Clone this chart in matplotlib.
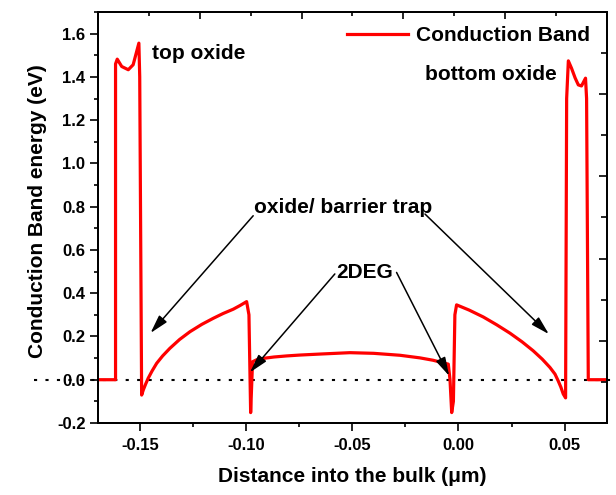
"""
plot.py
Conduction band profile across the oxide / barrier / channel stack.
"""
import matplotlib
matplotlib.use("Agg")
import matplotlib.pyplot as plt
from matplotlib.ticker import MultipleLocator

plt.rcParams["font.family"] = ["Liberation Sans", "DejaVu Sans"]
plt.rcParams["font.weight"] = "bold"
plt.rcParams["axes.labelweight"] = "bold"

# --- conduction band profile (um, eV) ---
DIST = [-0.170, -0.1617, -0.1617, -0.1609, -0.1588, -0.1557, -0.1534, -0.1507,
        -0.1503, -0.1494, -0.1486, -0.1475, -0.1463, -0.1445, -0.1423, -0.1395,
        -0.1361, -0.1315, -0.1266, -0.1210, -0.1156, -0.1110, -0.1062, -0.1030,
        -0.0999, -0.0988, -0.0980, -0.0971, -0.0952, -0.0910, -0.0870, -0.0810,
        -0.0748, -0.0645, -0.0512, -0.0400, -0.0276, -0.0182, -0.0120, -0.0048,
        -0.0040, -0.0032, -0.0024, -0.0017, -0.0009, 0.0050, 0.0117, 0.0180,
        0.0243, 0.0300, 0.0352, 0.0395, 0.0431, 0.0455, 0.0470, 0.0483,
        0.0494, 0.0505, 0.0510, 0.0518, 0.0533, 0.0550, 0.0565, 0.0580,
        0.0599, 0.0604, 0.0612, 0.070]
ENERGY = [0.0, 0.0, 1.46, 1.482, 1.448, 1.433, 1.456, 1.556,
          1.40, -0.071, -0.047, -0.020, 0.007, 0.040, 0.076, 0.110,
          0.145, 0.186, 0.222, 0.256, 0.284, 0.306, 0.326, 0.343,
          0.361, 0.30, -0.152, 0.083, 0.092, 0.100, 0.105, 0.110,
          0.114, 0.119, 0.125, 0.122, 0.113, 0.101, 0.090, 0.072,
          0.00, -0.152, -0.10, 0.30, 0.346, 0.322, 0.290, 0.254,
          0.215, 0.175, 0.134, 0.095, 0.057, 0.026, -0.005, -0.035,
          -0.066, -0.084, 1.30, 1.474, 1.440, 1.395, 1.363, 1.358,
          1.394, 1.30, 0.0, 0.0]

# --- annotation labels and arrows (text pos, arrow start -> tip) ---
REGION_LABELS = ["top oxide", "bottom oxide", "oxide/ barrier trap", "2DEG"]
LABEL_POS = [(-0.1445, 1.51), (0.0463, 1.41), (-0.0545, 0.795), (-0.0441, 0.496)]
ARROW_START = [(-0.0968, 0.758), (-0.0158, 0.766), (-0.0583, 0.489), (-0.0292, 0.496)]
ARROW_TIP = [(-0.1452, 0.216), (0.0426, 0.211), (-0.0983, 0.034), (-0.0044, 0.018)]

fig = plt.figure(figsize=(6.16, 4.95), dpi=100)
ax = fig.add_axes([0.159, 0.1455, 0.8263, 0.8303])

# zero reference, runs past both spines as in the original
ax.plot([-0.2, 0.072], [0, 0], color="black", lw=1.5, linestyle=(0, (1.5, 4)),
        clip_on=False, zorder=1)
ax.plot(DIST, ENERGY, color="red", lw=2.3, label="Conduction Band", zorder=3,
        solid_joinstyle="round")

for text, pos, align in zip(REGION_LABELS, LABEL_POS,
                            ["left", "right", "center", "center"]):
    ax.text(pos[0], pos[1], text, fontsize=15, fontweight="bold",
            ha=align, va="center", zorder=4)
for start, tip in zip(ARROW_START, ARROW_TIP):
    ax.annotate("", xy=tip, xytext=start,
                arrowprops=dict(arrowstyle="-|>,head_length=0.8,head_width=0.22",
                                color="black", lw=1.1, mutation_scale=14,
                                shrinkA=0, shrinkB=0))

ax.set_xlim(-0.17, 0.07)
ax.set_ylim(-0.2, 1.7)
ax.xaxis.set_major_locator(MultipleLocator(0.05))
ax.xaxis.set_minor_locator(MultipleLocator(0.025))
ax.yaxis.set_major_locator(MultipleLocator(0.2))
ax.yaxis.set_minor_locator(MultipleLocator(0.1))
ax.xaxis.set_major_formatter(plt.FuncFormatter(lambda v, p: f"{v:.2f}"))
ax.yaxis.set_major_formatter(plt.FuncFormatter(lambda v, p: f"{v:.1f}"))
ax.tick_params(which="major", direction="out", length=6, width=1.2,
               labelsize=12, pad=3)
ax.tick_params(which="minor", direction="out", length=3, width=1.2)
ax.tick_params(axis="x", which="major", pad=5)
for lab in ax.get_xticklabels() + ax.get_yticklabels():
    lab.set_fontweight("bold")
for s in ax.spines.values():
    s.set_linewidth(1.2)

ax.set_xlabel("Distance into the bulk (\u03bcm)", fontsize=15, fontweight="bold")
ax.set_ylabel("Conduction Band energy (eV)", fontsize=15, fontweight="bold")
ax.xaxis.set_label_coords(0.5, -0.108)
ax.yaxis.set_label_coords(-0.10, 0.515)

ax.legend(loc="upper right", bbox_to_anchor=(0.967, 0.966), frameon=False,
          handlelength=2.9, handletextpad=0.4,
          borderpad=0, borderaxespad=0, prop={"weight": "bold", "size": 15})

# mirror axes (independent scales in the original)
top = ax.twiny()
top.set_xlim(-0.2, 0.05)
top.xaxis.set_major_locator(MultipleLocator(0.05))
top.xaxis.set_minor_locator(MultipleLocator(0.025))
top.tick_params(which="major", direction="in", length=5, width=1.2, labeltop=False)
top.tick_params(which="minor", direction="in", length=3, width=1.2)

right = ax.twinx()
right.set_ylim(0, 1)
right.yaxis.set_major_locator(MultipleLocator(0.2))
right.yaxis.set_minor_locator(MultipleLocator(0.1))
right.tick_params(which="major", direction="in", length=6, width=1.2, labelright=False)
right.tick_params(which="minor", direction="in", length=4, width=1.2)
for a in (top, right):
    for s in a.spines.values():
        s.set_linewidth(1.2)

fig.savefig("out.png", dpi=100)
